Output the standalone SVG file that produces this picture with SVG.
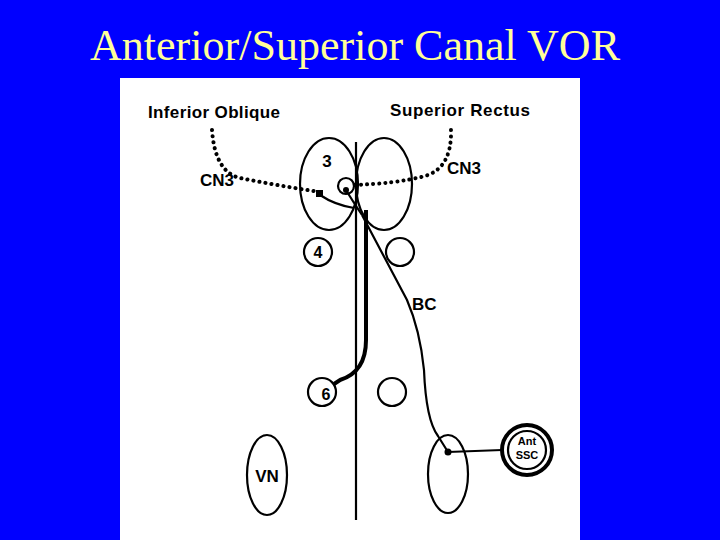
<svg xmlns="http://www.w3.org/2000/svg" width="720" height="540" viewBox="0 0 720 540">
<style>
.s{fill:none;stroke:#000;stroke-width:2.2}
.d{fill:none;stroke:#000;stroke-width:4;stroke-dasharray:0.1 6;stroke-linecap:round}
.t{font-family:"Liberation Sans",Arial,sans-serif;font-weight:bold;fill:#000}
</style>
<rect width="720" height="540" fill="#0000ff"/>
<text x="90" y="60" font-family="Liberation Serif,serif" font-size="44" fill="#ffff99" textLength="530">Anterior/Superior Canal VOR</text>
<rect x="120" y="78" width="460" height="462" fill="#fff"/>
<g id="nucleus3"><ellipse class="s" cx="329" cy="184" rx="29" ry="46"/><ellipse class="s" cx="384" cy="184" rx="28" ry="46"/><circle class="s" cx="346" cy="186" r="8"/><text class="t" x="327" y="167" font-size="17" text-anchor="middle">3</text></g>
<g id="nucleus4"><circle class="s" cx="318" cy="252" r="14"/><text class="t" x="318" y="258" font-size="16" text-anchor="middle">4</text></g>
<g id="nucleus4r"><circle class="s" cx="400" cy="252" r="14"/></g>
<g id="nucleus6"><circle class="s" cx="322" cy="392" r="14"/><text class="t" x="326" y="400" font-size="16" text-anchor="middle">6</text></g>
<g id="nucleus6r"><circle class="s" cx="392" cy="392" r="14"/></g>
<g id="vn"><ellipse class="s" cx="267" cy="475" rx="20" ry="40"/><text class="t" x="267" y="482" font-size="17" text-anchor="middle">VN</text></g>
<g id="vnr"><ellipse class="s" cx="448" cy="474" rx="20" ry="39"/></g>
<g id="ssc"><circle cx="527" cy="450" r="25" fill="none" stroke="#000" stroke-width="4"/><circle class="s" cx="527" cy="450" r="19" stroke-width="1.5"/><text class="t" x="527" y="445" font-size="11" text-anchor="middle">Ant</text><text class="t" x="527" y="459" font-size="11" text-anchor="middle">SSC</text></g>
<g id="labels">
<text class="t" x="148" y="118" font-size="17" textLength="132">Inferior Oblique</text>
<text class="t" x="390" y="116" font-size="17" textLength="140">Superior Rectus</text>
<text class="t" x="200" y="186" font-size="17">CN3</text>
<text class="t" x="447" y="174" font-size="17">CN3</text>
<text class="t" x="412" y="310" font-size="17">BC</text>
</g>
<g id="connectors">
<line class="s" x1="356" y1="142" x2="356" y2="520"/>
<path class="d" d="M212,130 Q215,172 240,178 Q280,186 320,192"/>
<path class="d" d="M451,130 Q452,168 425,176 Q395,184 350,185"/>
<path class="s" d="M320,195 Q335,205 354,208"/>
<rect x="316" y="190" width="7" height="7"/>
<circle cx="346" cy="190" r="3"/>
<path class="s" d="M346,190 Q352,200 362,215"/>
<path fill="none" stroke="#000" stroke-width="4" d="M366,210 L366,340 Q366,372 340,380 L334,384"/>
<path class="s" d="M362,215 L407,300 Q420,330 424,370 Q426,420 438,436 L448,452"/>
<circle cx="448" cy="452" r="3.5"/>
<line class="s" x1="448" y1="452" x2="502" y2="450"/>
</g>
</svg>
